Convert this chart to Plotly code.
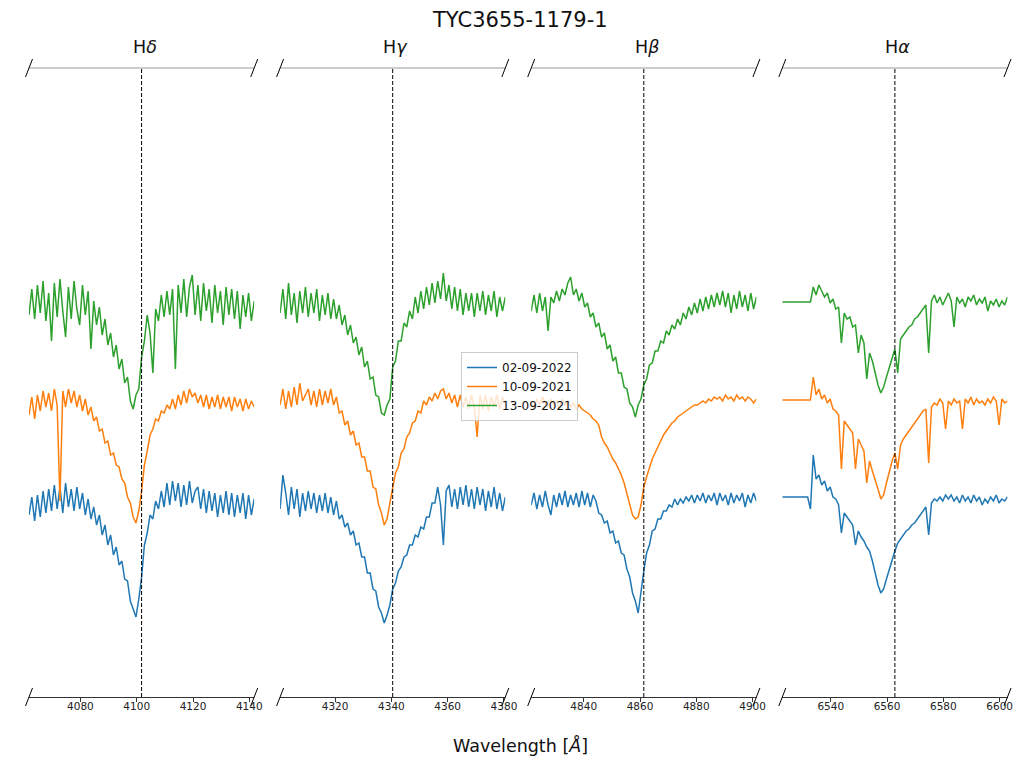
import numpy as np
import plotly.graph_objects as go

# ---------------- data ----------------
REST = [4101.74, 4340.47, 4861.35, 6562.79]          # rest wavelengths [Å]
LINE_LABELS = ["H<i>δ</i>", "H<i>γ</i>", "H<i>β</i>", "H<i>α</i>"]
HALF_WINDOW = 40.0                                    # Å shown each side of rest
STEP = 1.0                                            # sampling of the read-off spectra [Å]
DATES = ["02-09-2022", "10-09-2021", "13-09-2021"]
OFFSETS = [0.0, 0.5, 1.0]
COLORS = ["#1f77b4", "#ff7f0e", "#2ca02c"]

# normalised flux, one value per Å starting at REST-40
hdelta_20220902 = [0.95,1.04,0.92,1.05,0.94,1.07,0.96,1.08,0.97,1.10,0.98,1.09,0.96,1.11,0.99,1.08,0.97,1.09,0.98,1.06,
                   0.95,1.03,0.93,0.99,0.90,0.95,0.85,0.90,0.80,0.85,0.75,0.79,0.70,0.72,0.63,0.62,0.52,0.48,0.44,0.53,
                   0.64,0.80,0.86,0.95,0.93,1.02,0.98,1.07,0.99,1.11,1.00,1.12,1.02,1.11,0.99,1.10,1.00,1.12,1.01,1.07,
                   1.09,0.98,1.08,0.96,1.07,0.97,1.06,0.94,1.05,0.96,1.07,0.95,1.06,0.94,1.05,0.96,1.06,0.93,1.05,0.95,1.03]
hdelta_20210910 = [0.95,1.04,0.93,1.05,0.97,1.07,0.99,1.06,0.97,1.08,1.00,0.52,1.07,0.99,1.08,1.01,1.07,0.99,1.05,0.97,
                   1.03,0.95,0.99,0.92,0.94,0.87,0.88,0.81,0.82,0.75,0.76,0.70,0.69,0.63,0.61,0.54,0.51,0.44,0.41,0.47,
                   0.57,0.70,0.77,0.85,0.88,0.93,0.92,0.97,0.96,1.00,0.98,1.03,0.98,1.05,1.00,1.07,1.01,1.08,1.04,1.06,
                   1.01,1.05,0.99,1.05,0.98,1.04,0.99,1.05,0.98,1.04,0.99,1.04,0.97,1.04,0.99,1.03,0.97,1.03,0.98,1.02,0.99]
hdelta_20210913 = [0.95,1.08,0.93,1.10,0.96,1.12,0.92,1.06,0.82,1.11,0.94,1.13,0.97,0.84,1.09,0.93,1.12,0.98,0.90,1.10,
                   0.95,1.07,0.78,1.02,0.90,0.99,0.85,0.93,0.80,0.86,0.74,0.80,0.68,0.73,0.61,0.64,0.52,0.48,0.55,0.58,
                   0.74,0.82,0.95,0.86,0.66,0.98,0.92,1.05,0.94,1.07,0.95,1.08,0.68,1.10,0.96,1.13,0.94,1.09,1.15,0.95,
                   1.10,0.92,1.11,0.97,1.08,0.91,1.10,0.96,1.07,0.90,1.09,0.95,1.08,0.93,1.07,0.88,1.05,0.94,1.06,0.92,1.02]

hgamma_20220902 = [0.98,1.15,1.06,0.95,1.09,0.98,1.08,0.94,1.06,0.97,1.07,0.98,1.06,0.96,1.05,0.97,1.06,0.96,1.04,0.95,
                   1.02,0.93,0.95,0.89,0.91,0.85,0.87,0.80,0.81,0.74,0.74,0.66,0.66,0.58,0.57,0.49,0.46,0.41,0.45,0.50,
                   0.58,0.61,0.67,0.69,0.74,0.75,0.80,0.80,0.85,0.84,0.89,0.88,0.94,0.94,1.01,1.01,1.09,1.00,0.80,1.07,
                   1.10,0.99,1.08,0.98,1.09,1.00,1.10,0.99,1.08,0.98,1.09,1.00,1.08,0.97,1.07,0.99,1.09,0.98,1.06,0.97,1.04]
hgamma_20210910 = [1.00,1.08,0.98,1.07,0.99,1.09,1.00,1.11,1.02,1.05,1.08,1.00,1.07,0.99,1.08,1.00,1.07,1.01,1.08,1.00,
                   1.04,0.96,0.97,0.90,0.92,0.85,0.87,0.80,0.81,0.74,0.74,0.67,0.67,0.59,0.58,0.50,0.46,0.40,0.43,0.51,
                   0.58,0.66,0.69,0.76,0.78,0.84,0.86,0.91,0.92,0.97,0.96,1.02,1.00,1.04,1.02,1.06,1.03,1.07,1.08,1.03,
                   1.06,1.01,1.05,0.99,1.05,0.99,1.04,0.98,1.05,0.99,0.84,1.05,0.98,1.05,0.97,1.04,0.99,1.05,0.98,1.04,1.01]
hgamma_20210913 = [0.96,1.08,0.93,1.11,0.95,1.06,0.91,1.07,0.96,1.09,0.94,1.06,0.96,1.08,0.92,1.05,0.95,1.06,0.93,1.03,
                   0.93,1.00,0.90,0.95,0.85,0.90,0.81,0.84,0.75,0.79,0.69,0.72,0.63,0.64,0.55,0.54,0.46,0.45,0.50,0.53,
                   0.69,0.72,0.82,0.82,0.91,0.89,0.97,0.93,1.04,0.96,1.07,0.98,1.09,1.00,1.11,1.01,1.12,1.03,1.16,1.02,
                   1.10,0.98,1.09,0.97,1.08,0.95,1.06,0.97,1.06,0.94,1.06,0.97,1.07,0.95,1.05,0.97,1.07,0.94,1.04,0.97,1.04]

hbeta_20220902 = [1.00,1.06,0.98,1.05,0.99,1.07,1.00,0.95,1.05,0.99,1.06,1.00,1.07,0.99,1.05,1.00,1.06,0.99,1.07,1.00,
                  1.06,0.99,1.05,1.02,0.96,0.95,0.91,0.92,0.86,0.87,0.81,0.82,0.76,0.75,0.68,0.64,0.56,0.52,0.46,0.58,
                  0.67,0.76,0.80,0.87,0.88,0.93,0.93,0.97,0.97,1.00,0.99,1.03,1.00,1.03,1.01,1.04,1.02,1.05,1.01,1.05,
                  1.02,1.06,1.01,1.05,1.02,1.06,1.00,1.06,1.02,1.05,1.00,1.06,1.01,1.05,1.02,1.06,0.99,1.05,1.01,1.06,1.02]
hbeta_20210910 = [1.01,0.98,1.03,1.00,1.04,1.01,0.99,1.03,1.00,1.02,0.98,1.03,1.00,1.02,0.99,1.01,0.98,1.00,0.98,0.97,
                  0.96,0.95,0.93,0.92,0.90,0.84,0.81,0.79,0.76,0.73,0.71,0.68,0.65,0.61,0.56,0.50,0.45,0.43,0.44,0.50,
                  0.59,0.64,0.69,0.73,0.76,0.79,0.82,0.85,0.87,0.89,0.91,0.92,0.94,0.95,0.96,0.97,0.98,0.99,1.00,1.00,
                  1.01,1.02,1.01,1.03,1.02,1.04,1.03,1.04,1.02,1.05,1.03,1.04,1.02,1.05,1.03,1.04,1.02,1.04,1.03,1.01,1.03]
hbeta_20210913 = [0.97,1.05,0.96,1.06,0.97,1.04,0.87,1.04,1.01,1.07,1.02,1.08,1.05,1.11,1.14,1.05,1.08,1.02,1.06,0.99,
                  1.01,0.94,0.96,0.89,0.91,0.84,0.86,0.78,0.80,0.72,0.74,0.66,0.66,0.59,0.58,0.51,0.49,0.44,0.50,0.53,
                  0.60,0.63,0.70,0.71,0.77,0.77,0.82,0.81,0.87,0.85,0.90,0.88,0.93,0.90,0.96,0.93,0.99,0.95,1.01,0.96,
                  1.03,0.97,1.04,0.98,1.05,0.99,1.06,1.00,1.07,0.99,1.06,0.96,1.05,0.98,1.07,0.99,1.05,0.97,1.06,0.98,1.04]

halpha_20220902 = [1.04,1.04,1.04,1.04,1.04,1.04,1.04,1.04,1.04,1.04,0.98,1.25,1.13,1.15,1.10,1.12,1.07,1.09,1.04,1.03,
                   1.00,0.86,0.96,0.94,0.92,0.90,0.80,0.87,0.84,0.82,0.79,0.77,0.72,0.66,0.60,0.56,0.58,0.63,0.68,0.73,
                   0.77,0.81,0.83,0.85,0.87,0.88,0.90,0.91,0.93,0.95,0.97,0.99,0.85,1.01,1.03,1.02,1.04,1.02,1.05,1.03,
                   1.05,1.02,1.04,1.01,1.05,1.02,1.04,1.01,1.05,1.02,1.04,1.00,1.03,1.01,1.04,1.02,1.05,1.01,1.03,1.02,1.04]
halpha_20210910 = [1.025,1.025,1.025,1.025,1.025,1.025,1.025,1.025,1.025,1.025,1.025,1.14,1.05,1.08,1.03,1.05,1.01,1.03,0.98,0.97,
                   0.95,0.68,0.92,0.90,0.88,0.86,0.68,0.83,0.80,0.77,0.61,0.72,0.67,0.63,0.58,0.53,0.55,0.61,0.67,0.72,
                   0.76,0.68,0.80,0.83,0.85,0.87,0.89,0.91,0.93,0.95,0.97,0.98,0.71,0.99,1.01,1.00,1.03,1.01,0.88,1.02,
                   1.00,1.03,1.01,1.02,0.88,1.03,1.01,1.04,1.00,1.03,1.01,1.02,1.00,1.03,1.01,1.04,1.02,0.90,1.03,1.01,1.02]
halpha_20210913 = [1.015,1.015,1.015,1.015,1.015,1.015,1.015,1.015,1.015,1.015,1.015,1.09,1.05,1.10,1.07,1.04,1.06,1.01,1.03,0.98,
                   0.99,0.81,0.96,0.93,0.94,0.89,0.90,0.76,0.85,0.81,0.63,0.76,0.72,0.66,0.60,0.56,0.59,0.64,0.69,0.74,
                   0.78,0.66,0.83,0.85,0.87,0.89,0.90,0.93,0.94,0.96,0.98,1.00,0.76,1.02,1.05,1.01,1.04,1.00,1.03,1.06,
                   1.02,0.89,1.04,1.01,1.03,0.99,1.04,1.02,1.05,1.00,1.03,1.01,1.04,0.97,1.02,1.00,1.03,0.99,1.02,1.00,1.04]

SPECTRA = [
    [hdelta_20220902, hdelta_20210910, hdelta_20210913],
    [hgamma_20220902, hgamma_20210910, hgamma_20210913],
    [hbeta_20220902, hbeta_20210910, hbeta_20210913],
    [halpha_20220902, halpha_20210910, halpha_20210913],
]

# ---------------- layout geometry (pixel positions on the page) ----------------
W = 1035
H = 758
PANEL_LEFT, PANEL_W, PANEL_GAP = 29.0, 225.2, 25.9
PLOT_TOP, PLOT_BOTTOM = 68.0, 697.0
Y_RANGE = [0.04, 3.185]
FONT = "DejaVu Sans"


def px(x):
    """page pixel (from left) -> paper fraction"""
    return x / W


def py(y):
    """page pixel (from top) -> paper fraction"""
    return 1 - y / H


fig = go.Figure()
axes = ["x", "x2", "x3", "x4"]
layout_axes = {}
shapes = []
annotations = []

for k, rest in enumerate(REST):
    ax = axes[k]
    wl = np.arange(rest - HALF_WINDOW, rest + HALF_WINDOW + STEP / 2, STEP)
    for j, flux in enumerate(SPECTRA[k]):
        assert len(flux) == len(wl)
        fig.add_trace(go.Scatter(
            x=wl, y=np.array(flux) + OFFSETS[j], mode="lines",
            line=dict(color=COLORS[j], width=1.5),
            name=DATES[j], legendgroup=DATES[j], showlegend=(k == 0),
            xaxis=ax, yaxis="y", hoverinfo="skip"))

    left = PANEL_LEFT + k * (PANEL_W + PANEL_GAP)
    key = "xaxis" if k == 0 else f"xaxis{k + 1}"
    layout_axes[key] = dict(
        domain=[px(left), px(left + PANEL_W)], range=[rest - HALF_WINDOW, rest + HALF_WINDOW], anchor="y",
        showline=True, linecolor="#333333", linewidth=1,
        ticks="outside", ticklen=3.5, tickwidth=0.8, tickcolor="#333333",
        tick0=0, dtick=20, tickfont=dict(family=FONT, size=10.5, color="#222222"),
        ticklabelstandoff=-4, automargin=False,
        showgrid=False, zeroline=False, fixedrange=True)

    dom = f"{ax} domain"
    # top spine
    shapes.append(dict(type="line", xref=dom, yref="y domain", x0=0, x1=1, y0=1, y1=1,
                       line=dict(color="#9a9a9a", width=1)))
    # rest wavelength marker
    shapes.append(dict(type="line", xref=ax, yref="y domain", x0=rest, x1=rest, y0=0, y1=1,
                       line=dict(color="black", width=1, dash="4px,2px")))
    # broken-axis diagonal markers
    for xa in (0, 1):
        for ya in (0, 1):
            shapes.append(dict(type="line", xref=dom, yref="y domain",
                               xsizemode="pixel", xanchor=xa, x0=-3.5, x1=3.5,
                               ysizemode="pixel", yanchor=ya, y0=-9, y1=9,
                               line=dict(color="black", width=1)))
    annotations.append(dict(text=LINE_LABELS[k], xref=dom, x=0.5, xshift=3, yref="paper", y=py(47),
                            showarrow=False, xanchor="center", yanchor="middle",
                            font=dict(family=FONT, size=17.5, color="#111111")))

annotations.append(dict(text="TYC3655-1179-1", xref="paper", x=px(520), yref="paper", y=py(20),
                        showarrow=False, xanchor="center", yanchor="middle",
                        font=dict(family=FONT, size=21, color="#111111")))
annotations.append(dict(text="Wavelength [<i>Å</i>]", xref="paper", x=px(520), yref="paper", y=py(745),
                        showarrow=False, xanchor="center", yanchor="middle",
                        font=dict(family=FONT, size=17.5, color="#111111")))

fig.update_layout(
    width=W, height=H, margin=dict(l=0, r=0, t=0, b=0, autoexpand=False),
    paper_bgcolor="white", plot_bgcolor="white",
    yaxis=dict(domain=[py(PLOT_BOTTOM), py(PLOT_TOP)], range=Y_RANGE,
               visible=False, fixedrange=True, automargin=False),
    shapes=shapes, annotations=annotations,
    legend=dict(x=px(461), y=py(352), xanchor="left", yanchor="top",
                bgcolor="rgba(255,255,255,0.8)", bordercolor="#cccccc", borderwidth=1,
                font=dict(family=FONT, size=12, color="#111111"), itemwidth=30, tracegroupgap=0),
    showlegend=True,
    **layout_axes,
)

fig.write_html("out.html")
